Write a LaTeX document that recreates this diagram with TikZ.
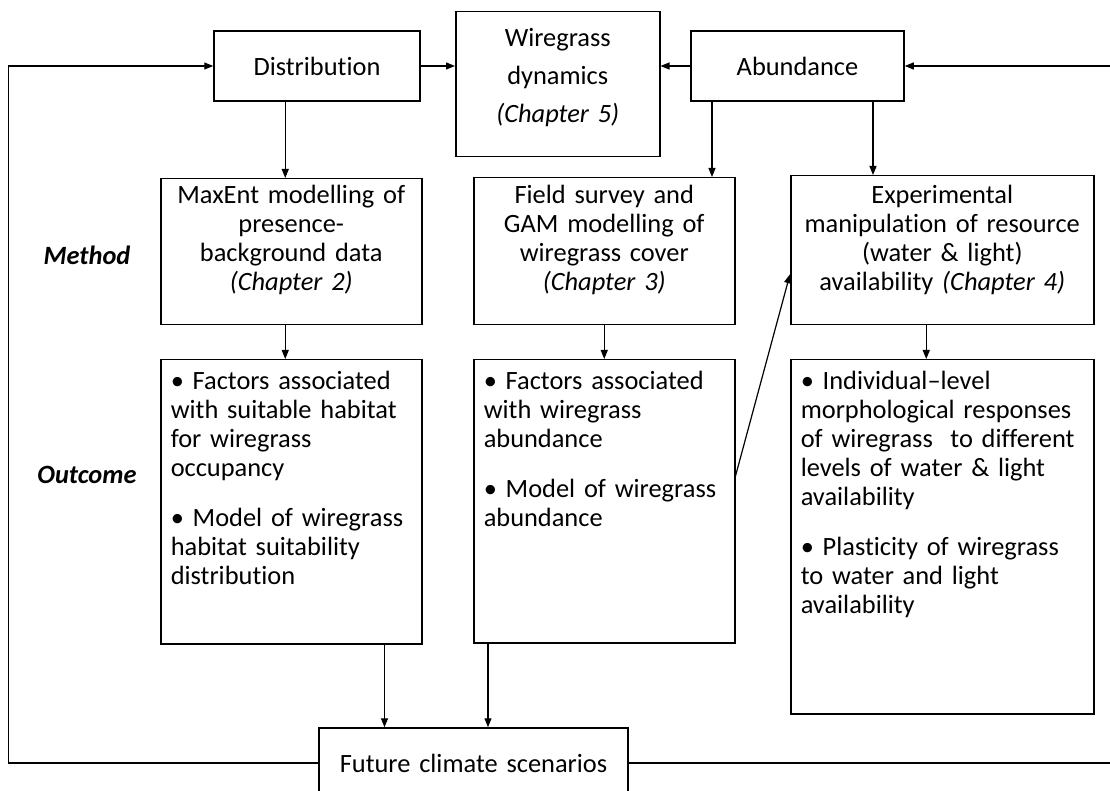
\documentclass[tikz,border=0pt]{standalone}
\usepackage{fontspec}
\setmainfont{Carlito}[Ligatures=NoCommon]
\usetikzlibrary{arrows.meta, calc}

\begin{document}
\begin{tikzpicture}[
  x=0.5pt, y=-0.5pt,
  every node/.style={font=\fontsize{13.2}{14.5}\selectfont},
  tbox/.style={draw, line width=0.75pt, inner sep=0pt, align=center},
  obox/.style={draw, line width=0.75pt, anchor=north west, inner xsep=5pt, inner ysep=0pt, align=left, text height=15pt},
  arr/.style={line width=0.6pt, -{Triangle[length=4.5pt, width=3.5pt]}},
  lbl/.style={font=\fontsize{13.2}{14.5}\selectfont\bfseries\itshape}
]
  \clip (0,0) rectangle (1110,791);
  \fill[white] (0,0) rectangle (1110,791);

  % top row
  \node[tbox, text width=103pt, minimum height=35pt] (dist) at (317, 66) {Distribution};
  \node[tbox, anchor=north west, text width=102pt, text height=17.5pt, text depth=55pt,
        font=\fontsize{13.2}{19}\selectfont] (dyn) at (455, 11) {
    Wiregrass\\ dynamics\\ \textit{(Chapter 5)}
  };
  \node[tbox, text width=106.5pt, minimum height=35pt] (abund) at (797.5, 66) {Abundance};

  % method row
  \node[lbl] (method) at (87, 255) {Method};
  \node[tbox, anchor=north west, text width=130.5pt, text height=12.5pt, text depth=60.5pt] (maxent) at (160, 178) {
    MaxEnt modelling of\\ presence-\\ background data\\ \textit{(Chapter 2)}
  };
  \node[tbox, anchor=north west, text width=130.5pt, text height=13pt, text depth=60.5pt] (field) at (473, 177) {
    Field survey and\\ GAM modelling of\\ wiregrass cover\\ \textit{(Chapter 3)}
  };
  \node[tbox, anchor=north west, text width=151.5pt, text height=14pt, text depth=60.5pt] (exper) at (790, 175) {
    Experimental\\ manipulation of resource\\ (water \& light)\\ availability \textit{(Chapter 4)}
  };

  % outcome row
  \node[lbl] (outcome) at (87, 475) {Outcome};
  \node[obox, text width=120.5pt, text depth=127pt] (out1) at (160, 359) {
    \textbullet\ Factors associated\\ with suitable habitat\\ for wiregrass\\ occupancy\\[10.5pt]
    \textbullet\ Model of wiregrass\\ habitat suitability\\ distribution
  };
  \node[obox, text width=120.5pt, text depth=126.5pt] (out2) at (473, 359) {
    \textbullet\ Factors associated\\ with wiregrass\\ abundance\\[10.5pt]
    \textbullet\ Model of wiregrass\\ abundance
  };
  \node[obox, text width=141.5pt, text depth=162pt] (out3) at (790, 359) {
    \textbullet\ Individual--level\\ morphological responses\\ of wiregrass\ \ to different\\ levels of water \& light\\ availability\\[10.5pt]
    \textbullet\ Plasticity of wiregrass\\ to water and light\\ availability
  };

  \node[tbox, text width=154.5pt, minimum height=35pt] (future) at (473.5, 763) {Future climate scenarios};

  % connectors
  \draw[arr] (dist.east) -- (dist.east -| dyn.west);
  \draw[arr] (abund.west) -- (abund.west -| dyn.east);
  \draw[arr] ([xshift=-3pt]maxent.north |- dist.south) -- ([xshift=-3pt]maxent.north);
  \draw[arr] ([xshift=-42.75pt]abund.south) -- ([xshift=-42.75pt]abund.south |- field.north);
  \draw[arr] ([xshift=37.75pt]abund.south) -- ([xshift=37.75pt]abund.south |- exper.north);
  \draw[arr] ([xshift=-3pt]maxent.south) -- ([xshift=-3pt]out1.north);
  \draw[arr] (field.south) -- (out2.north);
  \draw[arr] ([xshift=-8pt]exper.south) -- ([xshift=-8pt]exper.south |- out3.north);
  \draw[arr] ([yshift=-58.5pt]out2.north east) -- ([yshift=-12pt]exper.west);
  \draw[arr] ([xshift=-19pt]out1.south east) -- ([xshift=-19pt]out1.south east |- future.north);
  \draw[arr] ([xshift=7.5pt]out2.south west) -- ([xshift=7.5pt]out2.south west |- future.north);
  \draw[arr] (future.west) -- ++(-310, 0) |- (dist.west);
  \draw[arr] (future.east) -- ++(520, 0) |- (abund.east);
\end{tikzpicture}
\end{document}
